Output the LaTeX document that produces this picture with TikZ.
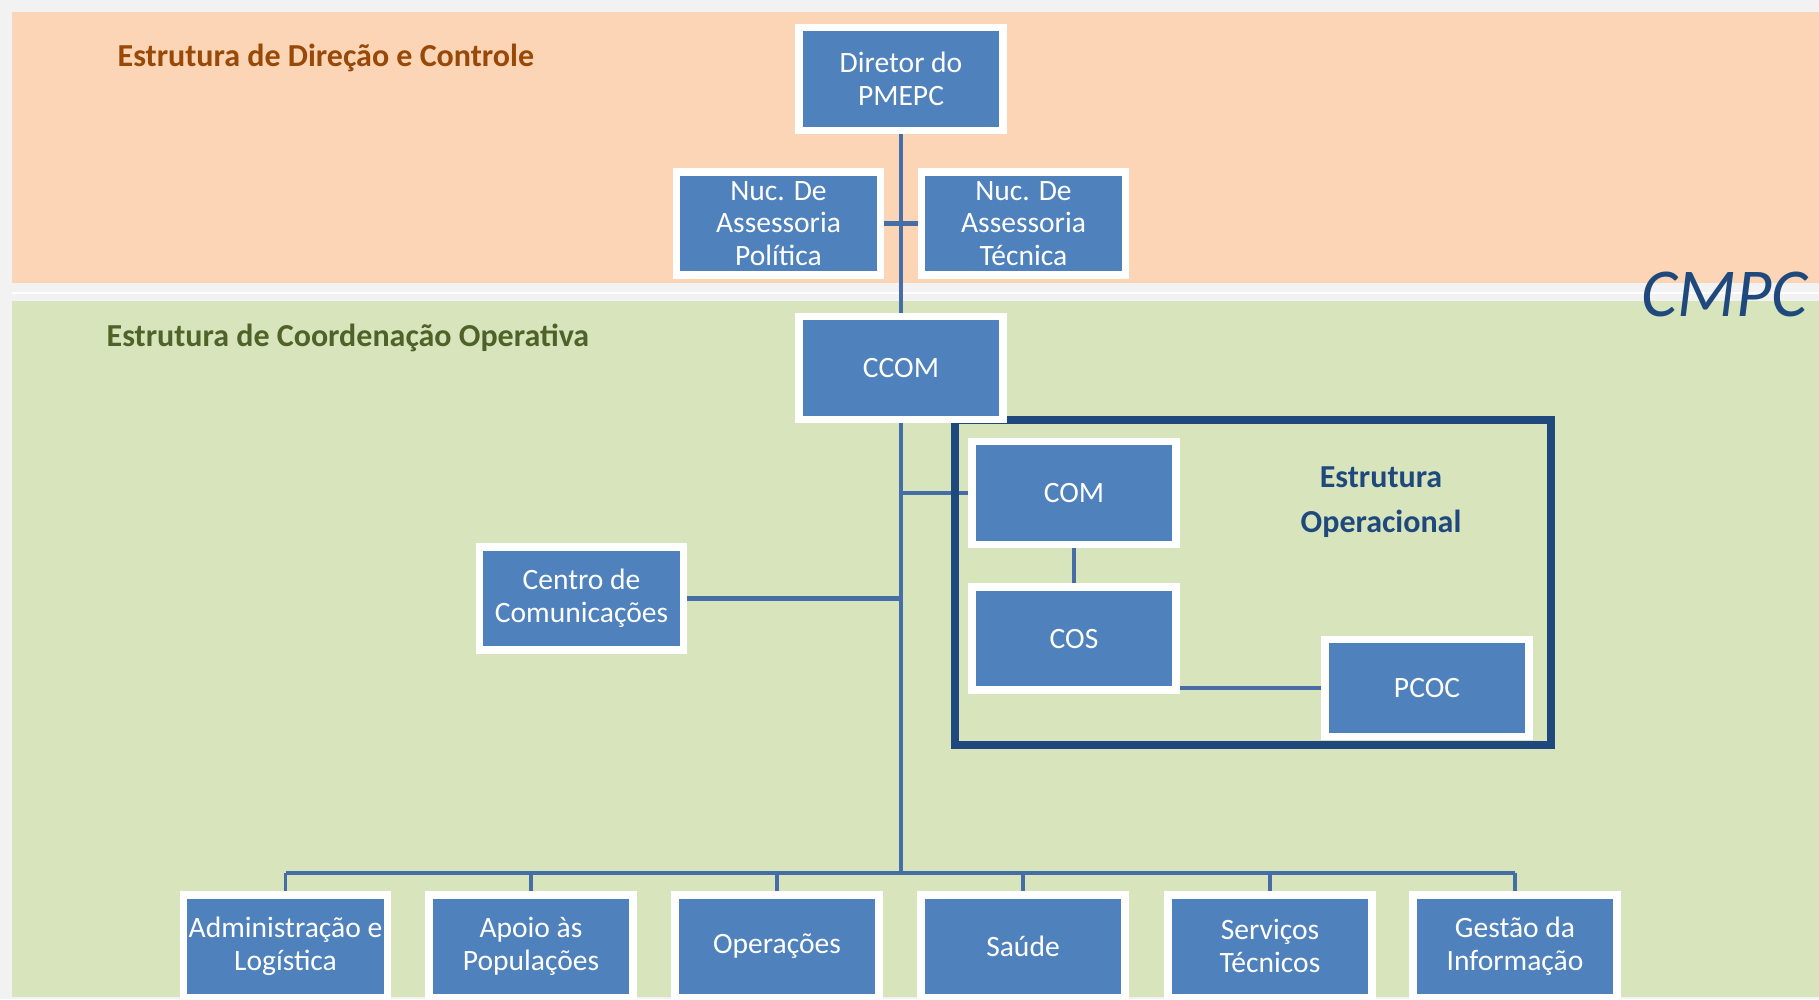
\documentclass[tikz,border=0pt]{standalone}
\usepackage{fontspec}
\setmainfont{Carlito}
\usepackage{tikz}
\definecolor{boxblue}{RGB}{79,129,189}
\definecolor{linkblue}{RGB}{68,110,165}
\definecolor{framebl}{RGB}{31,73,125}
\definecolor{peach}{RGB}{251,213,181}
\definecolor{sage}{RGB}{216,228,188}
\definecolor{paper}{RGB}{242,242,242}
\definecolor{dirbrown}{RGB}{152,72,7}
\definecolor{coordgreen}{RGB}{79,98,40}
\pgfdeclarelayer{bands}
\pgfdeclarelayer{lines}
\pgfsetlayers{bands,lines,main}
\tikzset{
  unit/.style={draw=white, fill=boxblue, line width=0.75mm, minimum width=2.035cm,
    minimum height=1.025cm, inner sep=0pt, align=center, text=white,
    font=\fontsize{8.4}{9.3}\selectfont},
  link/.style={draw=linkblue, line width=1.4pt},
  drop/.style={draw=linkblue, line width=1pt},
  heading/.style={font=\fontsize{9.1}{11}\selectfont\bfseries, anchor=base west, inner sep=0pt}
}

\begin{document}
\begin{tikzpicture}[x=0.01cm, y=-0.01cm]
    \useasboundingbox (0,0) rectangle (1819,999);
    % the two bands
    \begin{pgfonlayer}{bands}
    \fill[paper] (0,0) rectangle (1819,999);
    \fill[peach] (12,12) rectangle (1819,283);
    \fill[sage] (12,301) rectangle (1819,997);
    \draw[white, line width=0.5pt] (12,293) -- (1819,293);
    \end{pgfonlayer}

    \node[heading, text=dirbrown] (tdir) at (117,66) {Estrutura de Direção e Controle};
    \node[heading, text=coordgreen] (tcoord) at (106,346) {Estrutura de Coordenação Operativa};
    \node[anchor=base west, inner sep=0pt, text=framebl, font=\fontsize{19.5}{21}\selectfont\itshape] (cmpc) at (1641,316) {CMPC};

    % operational frame, below the boxes
    \draw[framebl, line width=0.8mm] (955,419.5) rectangle (1550.5,745);
    \node[text=framebl, align=center, font=\fontsize{9.1}{13}\selectfont\bfseries] (tope) at (1381,502) {Estrutura\\Operacional};

    \node[unit] (dir) at (901,79) {Diretor do\\PMEPC};
    \node[unit] (nucpol) at (778.5,223.5) {Nuc. De\\Assessoria\\Política};
    \node[unit] (nuctec) at (1023.5,223.5) {Nuc. De\\Assessoria\\Técnica};
    \node[unit] (ccom) at (901,368) {CCOM};
    \node[unit] (com) at (1074,493) {COM};
    \node[unit] (cos) at (1074,638.5) {COS};
    \node[unit, minimum height=0.965cm] (pcoc) at (1427,688) {PCOC};
    \node[unit] (centro) at (581.5,598.5) {Centro de\\Comunicações};

    % bottom row
    \foreach \nm/\cx/\txt in {adm/285.5/{Administração e\\Logística}, apoio/531/{Apoio às\\Populações},
        oper/777/{Operações}, saude/1023/{Saúde}, serv/1270/{Serviços\\Técnicos}, gest/1515/{Gestão da\\Informação}}
        \node[unit] (\nm) at (\cx,946) {\txt};

    \coordinate (bus) at (901,873);
    \begin{pgfonlayer}{lines}
    \draw[link] (dir) -- (ccom);
    \draw[link] (nucpol) -- (nuctec);
    \draw[link] (ccom) -- (bus);
    \draw[link] (com.west -| ccom.south) -- (com.west);
    \draw[link] (centro) -- (centro -| ccom.south);
    \draw[link] (com) -- (cos);
    \draw[link] (pcoc.west) -- (pcoc.west -| cos.east);
    \draw[link] (adm.north |- bus) -- (gest.north |- bus);
    \foreach \nm in {adm,apoio,oper,saude,serv,gest}
        \draw[drop] (\nm) -- (\nm.north |- bus);
    \end{pgfonlayer}
\end{tikzpicture}
\end{document}
